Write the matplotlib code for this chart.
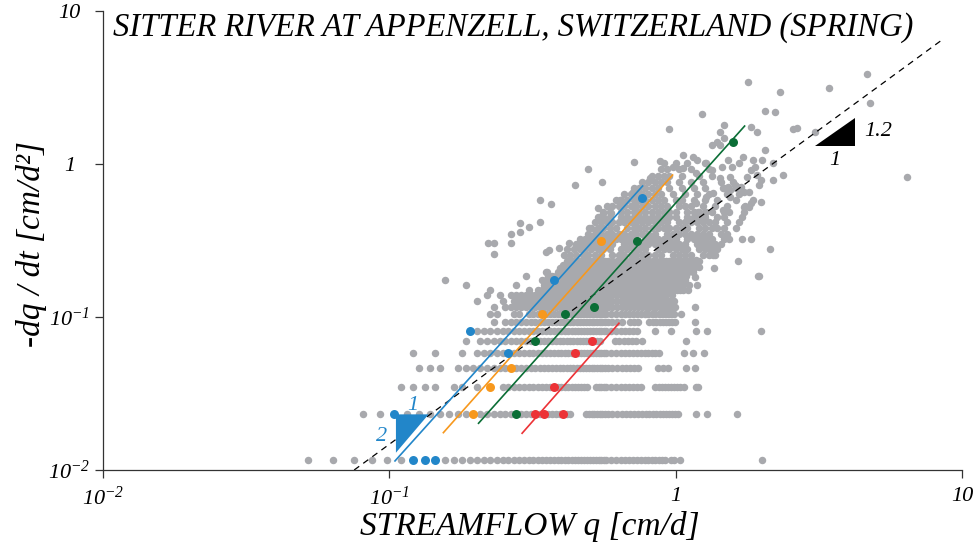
import numpy as np
import matplotlib.pyplot as plt
from matplotlib.ticker import NullLocator

plt.rcParams['font.family'] = 'Liberation Serif'
plt.rcParams['font.style'] = 'italic'
plt.rcParams['mathtext.fontset'] = 'custom'
plt.rcParams['mathtext.rm'] = 'Liberation Serif:italic'
plt.rcParams['mathtext.it'] = 'Liberation Serif:italic'

# flow and recession rate are both recorded in steps of this size (cm/d)
unit = 0.01157

# low recession rates sit on rows -dq/dt = k*unit; q given in the same steps
q_k1 = [4.5, 5.5, 6.5, 7.5, 8.5, 9.5, 13.5, 14.5, 15.5, 16.5, 17.5, 18.5, 19.5, 20.5, 21.5, 22.5, 23.5,
        24.5, 25.5, 26.5, 27.5, 28.5, 29.5, 30.5, 31.5, 32.5, 33.5, 34.5, 35.5, 36.5, 37.5, 38.5, 39.5,
        40.5, 41.5, 42.5, 43.5, 44.5, 45.5, 46.5, 47.5, 48.5, 49.5, 51.5, 53.5, 55.5, 57.5, 59.5, 61.5,
        63.5, 65.5, 67.5, 69.5, 71.5, 73.5, 75.5, 77.5, 79.5, 83.5, 85.5, 89.5, 172.5]
q_k2 = [7, 8, 10, 11, 12, 13, 14, 15, 16, 18, 19, 20, 21, 22, 23, 25, 26, 27, 29, 31, 32, 33, 34, 36, 37,
        42, 43, 44, 45, 46, 47, 48, 49, 50, 52, 54, 56, 58, 60, 62, 64, 66, 68, 70, 72, 74, 76, 78, 80,
        82, 84, 86, 88, 102, 111, 142]
q_k3 = [9.5, 10.5, 11.5, 12.5, 14.5, 15.5, 17.5, 21.5, 22.5, 23.5, 24.5, 25.5, 26.5, 27.5, 28.5, 29.5,
        30.5, 31.5, 33.5, 34.5, 35.5, 36.5, 37.5, 38.5, 39.5, 40.5, 41.5, 42.5, 45.5, 46.5, 47.5, 48.5,
        49.5, 51.5, 53.5, 55.5, 57.5, 59.5, 61.5, 63.5, 65.5, 73.5, 75.5, 77.5, 79.5, 81.5, 83.5, 85.5,
        87.5, 89.5, 92.5, 101.5, 103.5]
q_k4 = [11, 12, 13, 15, 16, 17, 18, 19, 20, 21, 22, 24, 25, 26, 27, 28, 29, 30, 31, 32, 33, 34, 35, 36,
        37, 38, 39, 40, 41, 42, 43, 44, 45, 46, 47, 48, 49, 50, 52, 54, 56, 58, 60, 62, 64, 75, 78, 81,
        94, 101]
q_k5 = [10.5, 12.5, 15.5, 17.5, 18.5, 19.5, 20.5, 21.5, 23.5, 24.5, 25.5, 26.5, 27.5, 28.5, 29.5, 30.5,
        31.5, 32.5, 33.5, 34.5, 35.5, 36.5, 37.5, 39.5, 40.5, 41.5, 42.5, 43.5, 44.5, 45.5, 46.5, 47.5,
        48.5, 49.5, 51.5, 53.5, 55.5, 57.5, 59.5, 61.5, 63.5, 65.5, 67.5, 69.5, 71.5, 73.5, 75.5, 92.5,
        99.5, 108.5]
q_k6 = [16, 18, 19, 20, 21, 22, 23, 24, 25, 26, 27, 29, 30, 31, 32, 33, 34, 35, 36, 37, 38, 39, 40, 41,
        42, 43, 45, 46, 47, 53, 55, 57, 59, 61, 63, 66, 94]
q_k7 = [17.5, 18.5, 19.5, 20.5, 21.5, 22.5, 23.5, 24.5, 25.5, 26.5, 27.5, 28.5, 29.5, 30.5, 31.5, 32.5,
        33.5, 34.5, 35.5, 36.5, 37.5, 38.5, 39.5, 40.5, 41.5, 42.5, 43.5, 44.5, 45.5, 46.5, 47.5, 48.5,
        49.5, 51.5, 53.5, 55.5, 57.5, 59.5, 61.5, 63.5, 73.5, 83.5, 101.5, 111.5, 171.5]
q_k8 = [20, 22, 23, 24, 25, 26, 27, 28, 29, 30, 31, 32, 33, 34, 35, 36, 37, 38, 39, 40, 41, 42, 43, 44,
        45, 46, 47, 48, 49, 50, 52, 54, 56, 60, 62, 64, 70, 72, 74, 76, 78, 80, 82, 84, 86, 101]
q_k9 = [19.5, 20.5, 23.5, 24.5, 26.5, 27.5, 28.5, 30.5, 31.5, 32.5, 33.5, 34.5, 36.5, 37.5, 38.5, 39.5,
        40.5, 41.5, 42.5, 43.5, 44.5, 45.5, 46.5, 47.5, 48.5, 49.5, 51.5, 53.5, 55.5, 57.5, 59.5, 61.5,
        63.5, 65.5, 67.5, 69.5, 71.5, 73.5, 75.5, 77.5, 79.5, 81.5, 83.5, 85.5, 90.5]
q_k10 = [20, 22, 23, 24, 25, 26, 27, 28, 29, 30, 31, 32, 33, 34, 35, 36, 37, 38, 39, 40, 41, 42, 43, 44,
         46, 47, 48, 49, 50, 52, 54, 56, 58, 60, 62, 64, 66, 68, 70, 72, 74, 76, 78, 80, 82, 84, 86, 101]
q_k11 = [17.5, 21.5, 23.5, 24.5, 25.5, 26.5, 27.5, 28.5, 29.5, 30.5, 31.5, 32.5, 33.5, 34.5, 35.5, 36.5,
         37.5, 38.5, 39.5, 40.5, 41.5, 42.5, 43.5, 44.5, 45.5, 46.5, 47.5, 48.5, 49.5, 51.5, 53.5, 55.5,
         57.5, 59.5, 61.5, 63.5, 65.5, 67.5, 69.5, 71.5, 73.5, 75.5, 77.5, 79.5, 81.5, 83.5, 85.5]
q_k12 = [19, 21, 23, 24, 25, 26, 27, 28, 29, 30, 31, 32, 33, 34, 35, 36, 37, 38, 39, 40, 41, 42, 43, 44,
         45, 46, 47, 48, 49, 50, 52, 54, 56, 58, 60, 62, 64, 66, 68, 70, 72, 74, 76, 78, 80, 84]
q_k13 = [19.5, 26.5, 28.5, 29.5, 30.5, 31.5, 32.5, 33.5, 34.5, 35.5, 36.5, 37.5, 38.5, 39.5, 40.5, 41.5,
         42.5, 43.5, 44.5, 45.5, 46.5, 47.5, 48.5, 49.5, 51.5, 53.5, 55.5, 57.5, 59.5, 61.5, 63.5, 65.5,
         67.5, 69.5, 71.5, 73.5, 75.5, 77.5, 79.5, 81.5, 83.5, 85.5, 87.5, 89.5, 91.5, 95.5]
q_k14 = [16, 24, 30, 31, 32, 33, 34, 35, 36, 37, 38, 39, 40, 41, 42, 43, 44, 45, 46, 47, 48, 49, 50, 52,
         54, 56, 58, 60, 62, 64, 66, 68, 70, 72, 74, 76, 78, 80, 82, 84, 86, 88, 90, 92, 96, 103]
q_k15 = [13.5, 29.5, 30.5, 31.5, 33.5, 34.5, 35.5, 36.5, 37.5, 38.5, 39.5, 40.5, 41.5, 42.5, 43.5, 44.5,
         45.5, 46.5, 47.5, 48.5, 49.5, 51.5, 53.5, 55.5, 57.5, 59.5, 61.5, 63.5, 65.5, 67.5, 69.5, 71.5,
         73.5, 75.5, 77.5, 79.5, 81.5, 83.5, 85.5, 87.5, 89.5, 91.5, 93.5]
q_k16 = [26, 31, 32, 33, 34, 35, 36, 37, 38, 39, 40, 41, 42, 43, 44, 45, 46, 47, 48, 49, 50, 52, 54, 56,
         58, 60, 62, 64, 66, 68, 70, 72, 74, 76, 78, 80, 82, 84, 86, 88, 90, 94, 168]
q_k17 = [30.5, 33.5, 34.5, 35.5, 36.5, 37.5, 38.5, 39.5, 40.5, 41.5, 42.5, 43.5, 44.5, 45.5, 46.5, 47.5,
         48.5, 49.5, 51.5, 53.5, 55.5, 57.5, 59.5, 61.5, 63.5, 65.5, 67.5, 69.5, 71.5, 73.5, 75.5, 77.5,
         79.5, 81.5, 83.5, 85.5, 87.5, 89.5, 91.5, 93.5, 95.5, 99.5]
q_k18 = [34, 35, 36, 37, 38, 39, 40, 41, 42, 43, 44, 45, 46, 47, 48, 49, 50, 52, 54, 56, 58, 60, 62, 64,
         66, 68, 70, 72, 74, 76, 78, 80, 82, 84, 86, 88, 90, 92, 94, 96, 100]
q_k19 = [35.5, 36.5, 37.5, 38.5, 39.5, 40.5, 41.5, 42.5, 43.5, 44.5, 45.5, 46.5, 47.5, 48.5, 49.5, 51.5,
         53.5, 55.5, 57.5, 59.5, 61.5, 63.5, 65.5, 67.5, 69.5, 71.5, 73.5, 75.5, 77.5, 79.5, 81.5, 83.5,
         85.5, 87.5, 89.5, 91.5, 93.5, 95.5, 97.5, 101.5]
q_k20 = [36, 37, 38, 39, 40, 41, 42, 43, 44, 45, 46, 47, 48, 49, 50, 52, 54, 56, 58, 60, 62, 64, 66, 68,
         70, 72, 74, 76, 78, 80, 82, 84, 86, 88, 90, 92, 94, 96, 98, 100, 104]
rows_q = [q_k1, q_k2, q_k3, q_k4, q_k5, q_k6, q_k7, q_k8, q_k9, q_k10,
          q_k11, q_k12, q_k13, q_k14, q_k15, q_k16, q_k17, q_k18, q_k19, q_k20]

# denser part of the cloud: step number k of -dq/dt, flows in cm/d
band_k = [22, 24, 26, 28, 30, 33, 36, 39, 42, 46, 50, 55, 60, 66, 72, 80, 88]
band_q = [
    [0.409, 0.429, 0.450, 0.473, 0.496, 0.521, 0.547, 0.602, 0.632, 0.663, 0.696, 0.730, 0.766, 0.804,
     0.844, 0.886, 0.976, 1.024, 1.075, 1.128, 1.243, 1.304, 1.369],
    [0.419, 0.440, 0.462, 0.484, 0.508, 0.534, 0.560, 0.588, 0.647, 0.679, 0.713, 0.748, 0.785, 0.865,
     0.908, 0.952, 1.00, 1.05, 1.10, 1.21, 1.27, 1.34, 1.40],
    [0.450, 0.473, 0.496, 0.521, 0.547, 0.574, 0.602, 0.663, 0.696, 0.730, 0.766, 0.804, 0.844, 0.886,
     0.930, 0.976, 1.024, 1.075, 1.184, 1.243, 1.304, 1.369, 1.437],
    [0.462, 0.484, 0.508, 0.534, 0.560, 0.588, 0.617, 0.647, 0.679, 0.713, 0.785, 0.824, 0.865, 0.908,
     0.952, 1.00, 1.10, 1.16, 1.21, 1.27, 1.34, 1.47, 1.54],
    [0.496, 0.521, 0.547, 0.574, 0.602, 0.632, 0.663, 0.696, 0.730, 0.766, 0.804, 0.844, 0.930, 0.976,
     1.024, 1.075, 1.128, 1.184, 1.243, 1.304, 1.437, 1.508],
    [0.508, 0.534, 0.560, 0.588, 0.617, 0.679, 0.713, 0.748, 0.785, 0.824, 0.865, 0.908, 0.952, 1.00,
     1.05, 1.10, 1.21, 1.27, 1.34, 1.40, 1.47, 1.62],
    [0.521, 0.547, 0.574, 0.602, 0.632, 0.663, 0.696, 0.730, 0.766, 0.804, 0.844, 0.886, 0.930, 1.024,
     1.075, 1.128, 1.184, 1.243, 1.304, 1.369, 1.508, 1.661],
    [0.534, 0.560, 0.588, 0.647, 0.679, 0.713, 0.748, 0.785, 0.824, 0.865, 0.908, 0.952, 1.00, 1.10,
     1.16, 1.21, 1.27, 1.40, 1.47, 1.70],
    [0.560, 0.588, 0.647, 0.679, 0.713, 0.748, 0.785, 0.824, 0.865, 0.908, 0.952, 1.00, 1.10, 1.16,
     1.21, 1.27, 1.34, 1.47, 1.54, 1.74],
    [0.574, 0.602, 0.632, 0.663, 0.696, 0.730, 0.766, 0.804, 0.844, 0.886, 0.930, 1.024, 1.075, 1.128,
     1.243, 1.369, 1.508, 1.743],
    [0.617, 0.647, 0.679, 0.713, 0.748, 0.785, 0.824, 0.865, 0.908, 1.00, 1.05, 1.16, 1.27, 1.40, 1.62, 1.87],
    [0.663, 0.696, 0.730, 0.766, 0.804, 0.844, 0.886, 0.976, 1.075, 1.184, 1.304, 1.508, 1.661],
    [0.713, 0.748, 0.785, 0.824, 0.865, 0.952, 1.05, 1.16, 1.27, 1.47, 1.62],
    [0.766, 0.804, 0.844, 0.886, 0.930, 1.024, 1.128, 1.243, 1.437, 1.583],
    [0.824, 0.865, 0.908, 0.952, 1.05, 1.21, 1.34],
    [0.886, 0.930, 1.024, 1.128, 1.304],
    [0.908, 1.00, 1.10, 1.27],
]

# scattered days away from the core, (q [cm/d], -dq/dt [cm/d2])
spread_pts = [
    (1.79, 3.44), (2.31, 2.96), (3.43, 3.14), (4.65, 3.88), (4.77, 2.50), (2.05, 2.22), (2.22, 2.19),
    (1.24, 2.12), (0.945, 1.69), (1.48, 1.80), (1.43, 1.62), (1.84, 1.75), (1.92, 1.62), (2.57, 1.69),
    (2.65, 1.72), (3.06, 1.62), (0.879, 1.05), (1.06, 1.15), (0.976, 0.956), (1.15, 1.11), (1.19, 1.06),
    (1.34, 1.33), (1.43, 1.33), (1.48, 1.48), (1.39, 1.39), (1.28, 1.02), (1.34, 0.914), (1.45, 0.956),
    (1.52, 1.06), (1.58, 0.956), (1.67, 1.02), (1.72, 1.11), (1.86, 1.06), (1.89, 0.956), (2.05, 1.24),
    (2.00, 1.06), (2.18, 1.02), (2.37, 0.848), (2.18, 0.786), (1.92, 0.848), (1.84, 0.914), (1.43, 0.810),
    (1.55, 0.822), (1.06, 0.942), (1.18, 0.873), (0.811, 0.810), (6.43, 0.822), (1.98, 0.564),
    (1.74, 0.656), (1.81, 0.656), (1.63, 0.718), (1.74, 0.524), (1.81, 0.524), (1.55, 0.676),
    (1.55, 0.609), (1.77, 0.822), (2.13, 0.278), (1.84, 0.324), (1.70, 0.324), (1.65, 0.232),
    (1.95, 0.185), (1.36, 0.209), (1.99, 0.786), (1.96, 0.729), (1.61, 0.729), (1.69, 0.711),
    (1.46, 0.694), (1.52, 0.711), (1.35, 0.643), (1.28, 0.611), (1.84, 0.554), (1.46, 0.500),
    (1.18, 0.554), (1.20, 0.488), (1.28, 0.488), (1.31, 0.281), (1.35, 0.254), (1.18, 0.236),
    (1.21, 0.213), (1.17, 0.183),
    (0.713, 1.035), (0.494, 0.923), (0.444, 0.726), (0.552, 0.759), (0.337, 0.582), (0.367, 0.548),
    (0.285, 0.410), (0.337, 0.420), (0.307, 0.386), (0.266, 0.349), (0.285, 0.361), (0.221, 0.303),
    (0.233, 0.303), (0.266, 0.303), (0.232, 0.257), (0.535, 0.513), (0.557, 0.476), (0.596, 0.476),
    (0.637, 0.582), (0.663, 0.553), (0.709, 0.659), (0.748, 0.643), (0.811, 0.786), (0.500, 0.380),
    (0.528, 0.370), (0.474, 0.311), (0.500, 0.319), (0.426, 0.303), (0.393, 0.281), (0.3625, 0.274),
    (0.404, 0.219), (0.426, 0.213), (0.353, 0.265), (0.355, 0.198), (0.426, 0.236),
]

# highlighted recession events (q and -dq/dt in steps of unit)
blue_q = [9, 10.5, 11.5, 12.5, 16.5, 22.5, 32.5, 66]
blue_k = [2, 1, 1, 1, 7, 5, 15, 52]
orange_q = [17, 19.5, 23, 29.5, 47.5]
orange_k = [2, 3, 4, 9, 27]
green_q = [24, 28, 35.5, 45, 63.5, 137.5]
green_k = [2, 6, 9, 10, 27, 121]
red_q = [28, 30, 35, 32.5, 38.5, 44]
red_k = [2, 2, 2, 3, 5, 6]

# slope-2 fits to each event and the overall fit (end points, cm/d and cm/d2)
blue_fit = ([0.1047, 0.767], [0.01146, 0.718])
orange_fit = ([0.1545, 0.976], [0.01754, 0.847])
green_fit = ([0.205, 1.742], [0.0202, 1.77])
red_fit = ([0.291, 0.634], [0.01738, 0.0910])
all_fit = ([0.0754, 8.51], [0.01, 6.46])

# slope triangles
tri_two_q = [0.1055, 0.1372, 0.1055]
tri_two_d = [0.0231, 0.0231, 0.01297]
tri_one_q = [3.08, 4.226, 4.226]
tri_one_d = [1.317, 1.317, 1.99]

gray = '#a8a9ad'
c_blue = '#2286c9'
c_orange = '#f7981d'
c_green = '#0b6e36'
c_red = '#ec3236'

gray_q, gray_d = [], []
for k, row in enumerate(rows_q, start=1):
    gray_q += [n * unit for n in row]
    gray_d += [k * unit] * len(row)
for k, row in zip(band_k, band_q):
    gray_q += row
    gray_d += [k * unit] * len(row)
gray_q += [p[0] for p in spread_pts]
gray_d += [p[1] for p in spread_pts]

fig = plt.figure(figsize=(9.74, 5.46), dpi=100)
ax = fig.add_axes([0.1057, 0.1392, 0.8819, 0.8407])
ax.set_xscale('log')
ax.set_yscale('log')
ax.set_xlim(0.01, 10)
ax.set_ylim(0.01, 10)

ax.scatter(gray_q, gray_d, s=29, color=gray, linewidths=0, zorder=1, clip_on=False)

ax.plot(*all_fit, color='black', lw=0.9, dashes=(5, 4), zorder=2)
for fit, c in [(blue_fit, c_blue), (orange_fit, c_orange), (green_fit, c_green), (red_fit, c_red)]:
    ax.plot(*fit, color=c, lw=1.2, zorder=3)

for qs, ks, c in [(blue_q, blue_k, c_blue), (orange_q, orange_k, c_orange),
                  (green_q, green_k, c_green), (red_q, red_k, c_red)]:
    ax.scatter(np.array(qs) * unit, np.array(ks) * unit, s=42, color=c, linewidths=0, zorder=4)

ax.fill(tri_two_q, tri_two_d, color=c_blue, lw=0, zorder=4)
ax.text(0.121, 0.0265, '1', color=c_blue, fontsize=16, ha='center', va='center')
ax.text(0.094, 0.0165, '2', color=c_blue, fontsize=16, ha='center', va='center')
ax.fill(tri_one_q, tri_one_d, color='black', lw=0, zorder=4)
ax.text(3.6, 1.05, '1', color='black', fontsize=16, ha='center', va='center')
ax.text(4.55, 1.62, '1.2', color='black', fontsize=16, ha='left', va='center')

for side in ['top', 'right']:
    ax.spines[side].set_visible(False)
for side in ['left', 'bottom']:
    ax.spines[side].set_color('#333333')
    ax.spines[side].set_linewidth(0.9)
ax.xaxis.set_minor_locator(NullLocator())
ax.yaxis.set_minor_locator(NullLocator())
ticks = [0.01, 0.1, 1, 10]
labels = ['$10^{-2}$', '$10^{-1}$', '1', '10']
ax.set_xticks(ticks, labels)
ax.set_yticks(ticks, labels)
ax.tick_params(length=6, width=0.9, color='#333333', labelsize=16)
ax.tick_params(axis='x', pad=6)
ax.tick_params(axis='y', pad=18)
for lab in ax.get_yticklabels():
    lab.set_horizontalalignment('center')

fig.text(113 / 974, 1 - 36 / 546, 'SITTER RIVER AT APPENZELL, SWITZERLAND (SPRING)',
         fontsize=23.5, ha='left', va='baseline')
fig.text(530 / 974, 1 - 535 / 546, 'STREAMFLOW q [cm/d]', fontsize=24, ha='center', va='baseline')
fig.text(32 / 974, 1 - 244 / 546, '-dq / dt [cm/d²]', fontsize=24, rotation=90,
         ha='center', va='center')

fig.savefig('out.png', dpi=100)
